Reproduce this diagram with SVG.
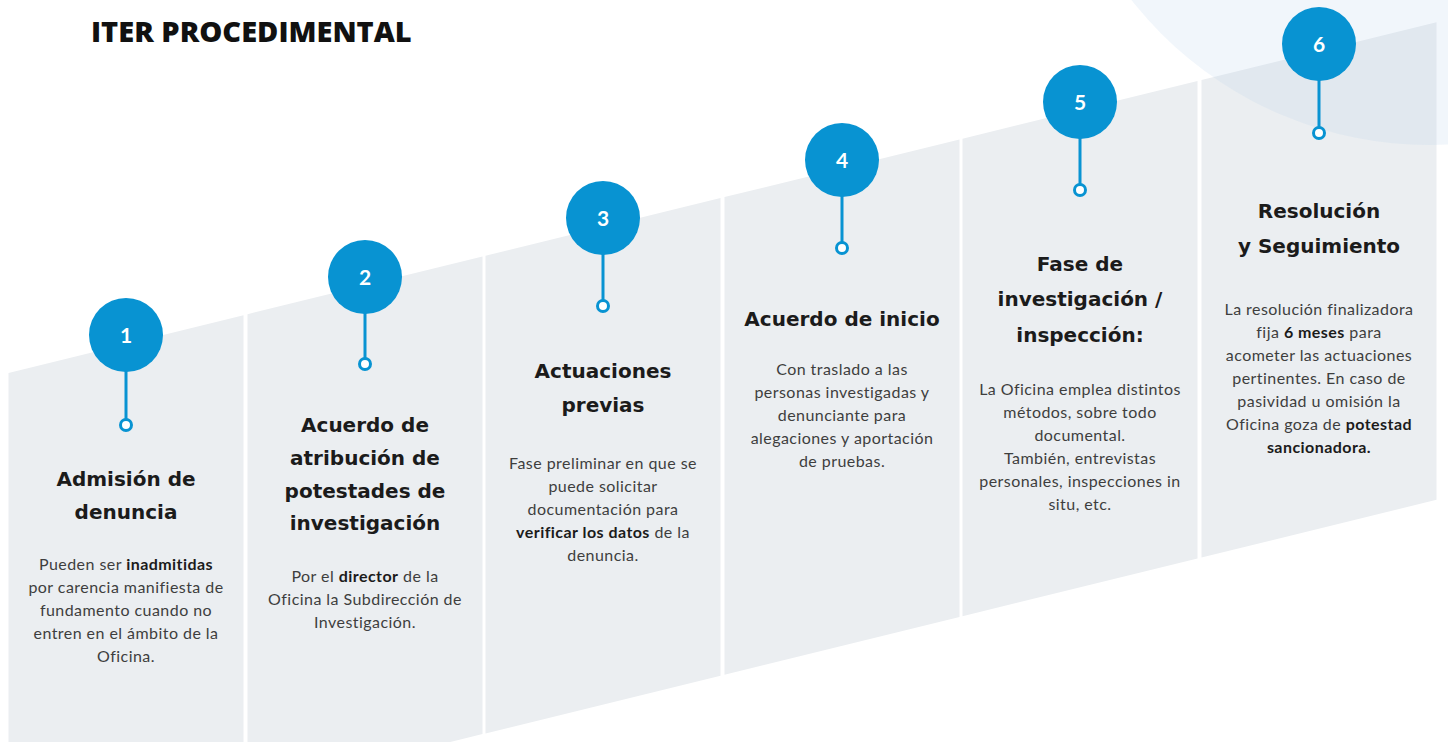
<svg xmlns="http://www.w3.org/2000/svg" width="1448" height="742" viewBox="0 0 1448 742">
<style>
.col{fill:#ebeef1}
.bubble{fill:#0893d2}
.stem{stroke:#0893d2;stroke-width:3;fill:none}
.ring{fill:#ffffff;stroke:#0893d2;stroke-width:3}
.num{font-family:Lato,"Open Sans",sans-serif;font-weight:700;font-size:21px;fill:#ffffff;text-anchor:middle}
.h{font-family:"DejaVu Sans",Lato,sans-serif;font-weight:700;font-size:20px;fill:#1b1b1b;text-anchor:middle}
.b{font-family:Lato,"Open Sans",sans-serif;font-size:16px;letter-spacing:0.45px;fill:#3e3e3e;text-anchor:middle}
.b tspan.k{font-weight:700;fill:#1b1b1b}
.title{font-family:"Open Sans",sans-serif;font-weight:800;font-size:29px;fill:#111111}
</style>
<rect width="1448" height="742" fill="#ffffff"/>
<text class="title" x="91" y="42">ITER PROCEDIMENTAL</text>
<g id="columns">
<polygon class="col" points="8.5,372.9 243.5,315.2 243.5,792 8.5,850"/>
<polygon class="col" points="247.5,314.2 482.5,256.5 482.5,734.1 247.5,791.8"/>
<polygon class="col" points="485.5,255.8 720.5,198.1 720.5,675.7 485.5,733.4"/>
<polygon class="col" points="724.5,197.1 959.5,139.4 959.5,617 724.5,674.7"/>
<polygon class="col" points="962.5,138.7 1197.5,81 1197.5,558.5 962.5,616.2"/>
<polygon class="col" points="1201.5,80 1436.5,22.3 1436.5,499.8 1201.5,557.5"/>
</g>
<circle id="bg-arc" cx="1430" cy="-235" r="380" fill="#b9d3ec" fill-opacity="0.2"/>
<g id="connectors">
<line class="stem" x1="126" y1="335" x2="126" y2="420"/>
<line class="stem" x1="365" y1="277" x2="365" y2="359"/>
<line class="stem" x1="603" y1="218" x2="603" y2="301"/>
<line class="stem" x1="842" y1="160" x2="842" y2="243"/>
<line class="stem" x1="1080" y1="102" x2="1080" y2="185"/>
<line class="stem" x1="1319" y1="44" x2="1319" y2="128"/>
</g>
<g id="step1">
<circle class="bubble" cx="126" cy="335" r="37"/>
<text class="num" x="126" y="343">1</text>
<circle class="ring" cx="126" cy="425" r="5.5"/>
<text class="h" x="126" y="486">Admisión de</text>
<text class="h" x="126" y="519">denuncia</text>
<text class="b" x="126" y="570">Pueden ser <tspan class="k">inadmitidas</tspan></text>
<text class="b" x="126" y="593">por carencia manifiesta de</text>
<text class="b" x="126" y="616">fundamento cuando no</text>
<text class="b" x="126" y="639">entren en el ámbito de la</text>
<text class="b" x="126" y="662">Oficina.</text>
</g>
<g id="step2">
<circle class="bubble" cx="365" cy="277" r="37"/>
<text class="num" x="365" y="285">2</text>
<circle class="ring" cx="365" cy="364" r="5.5"/>
<text class="h" x="365" y="432">Acuerdo de</text>
<text class="h" x="365" y="465">atribución de</text>
<text class="h" x="365" y="498">potestades de</text>
<text class="h" x="365" y="530">investigación</text>
<text class="b" x="365" y="582">Por el <tspan class="k">director</tspan> de la</text>
<text class="b" x="365" y="605">Oficina la Subdirección de</text>
<text class="b" x="365" y="628">Investigación.</text>
</g>
<g id="step3">
<circle class="bubble" cx="603" cy="218" r="37"/>
<text class="num" x="603" y="226">3</text>
<circle class="ring" cx="603" cy="306" r="5.5"/>
<text class="h" x="603" y="378">Actuaciones</text>
<text class="h" x="603" y="412">previas</text>
<text class="b" x="603" y="469">Fase preliminar en que se</text>
<text class="b" x="603" y="492">puede solicitar</text>
<text class="b" x="603" y="515">documentación para</text>
<text class="b" x="603" y="538"><tspan class="k">verificar los datos</tspan> de la</text>
<text class="b" x="603" y="561">denuncia.</text>
</g>
<g id="step4">
<circle class="bubble" cx="842" cy="160" r="37"/>
<text class="num" x="842" y="168">4</text>
<circle class="ring" cx="842" cy="248" r="5.5"/>
<text class="h" x="842" y="326">Acuerdo de inicio</text>
<text class="b" x="842" y="375">Con traslado a las</text>
<text class="b" x="842" y="398">personas investigadas y</text>
<text class="b" x="842" y="421">denunciante para</text>
<text class="b" x="842" y="444">alegaciones y aportación</text>
<text class="b" x="842" y="467">de pruebas.</text>
</g>
<g id="step5">
<circle class="bubble" cx="1080" cy="102" r="37"/>
<text class="num" x="1080" y="110">5</text>
<circle class="ring" cx="1080" cy="190" r="5.5"/>
<text class="h" x="1080" y="271">Fase de</text>
<text class="h" x="1080" y="306">investigación /</text>
<text class="h" x="1080" y="342">inspección:</text>
<text class="b" x="1080" y="395">La Oficina emplea distintos</text>
<text class="b" x="1080" y="418">métodos, sobre todo</text>
<text class="b" x="1080" y="441">documental.</text>
<text class="b" x="1080" y="464">También, entrevistas</text>
<text class="b" x="1080" y="487">personales, inspecciones in</text>
<text class="b" x="1080" y="510">situ, etc.</text>
</g>
<g id="step6">
<circle class="bubble" cx="1319" cy="44" r="37"/>
<text class="num" x="1319" y="52">6</text>
<circle class="ring" cx="1319" cy="133" r="5.5"/>
<text class="h" x="1319" y="218">Resolución</text>
<text class="h" x="1319" y="253">y Seguimiento</text>
<text class="b" x="1319" y="315">La resolución finalizadora</text>
<text class="b" x="1319" y="338">fija <tspan class="k">6 meses</tspan> para</text>
<text class="b" x="1319" y="361">acometer las actuaciones</text>
<text class="b" x="1319" y="384">pertinentes. En caso de</text>
<text class="b" x="1319" y="407">pasividad u omisión la</text>
<text class="b" x="1319" y="430">Oficina goza de <tspan class="k">potestad</tspan></text>
<text class="b" x="1319" y="453"><tspan class="k">sancionadora.</tspan></text>
</g>
</svg>
